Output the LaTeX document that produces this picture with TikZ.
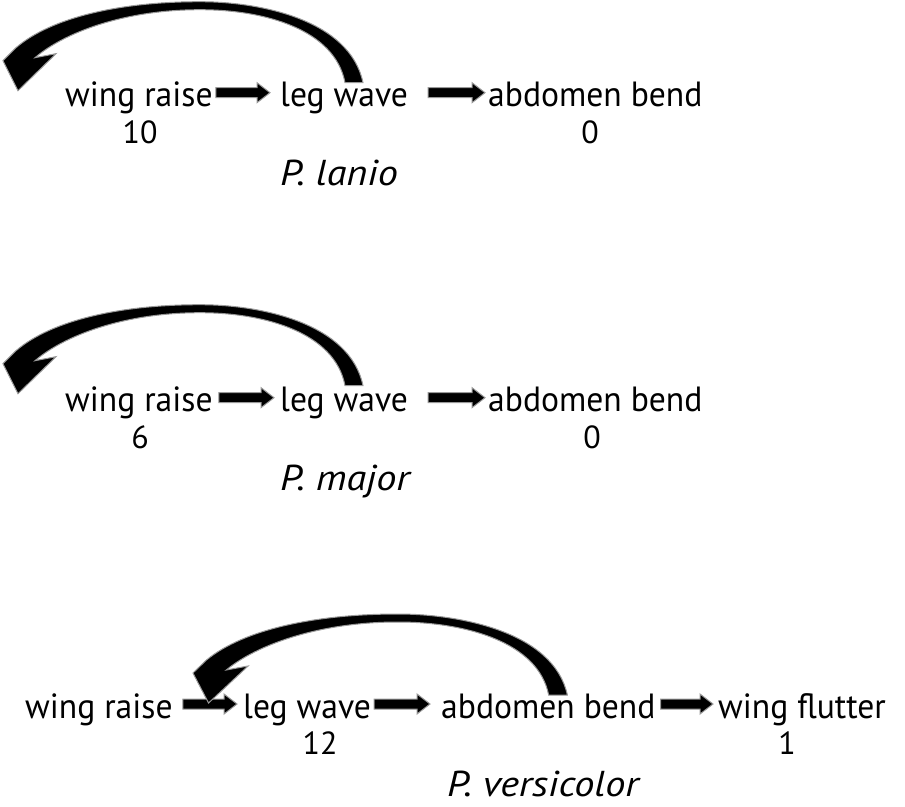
\documentclass[tikz,border=0pt]{standalone}
\usepackage{fontspec}
\setmainfont{PT Sans}
\newfontfamily\mainf[FakeStretch=0.96]{PT Sans}
\newfontfamily\specf[FakeStretch=1.12]{PT Sans Italic}
\usetikzlibrary{calc}
\tikzset{
  lbl/.style={inner sep=0pt, anchor=base west, font=\mainf\fontsize{35}{40}\selectfont},
  num/.style={inner sep=0pt, anchor=base, font=\fontsize{32}{36}\selectfont},
  spec/.style={inner sep=0pt, anchor=base west, font=\specf\fontsize{36}{42}\selectfont},
  fatshape/.style={fill=black, draw=black!40, line width=1pt, line join=miter},
}
\newcommand\fatarrow[2]{%
  \filldraw[fatshape] let \p1=#1, \p2=#2 in
    (\x1,\y1+5pt) -- (\x2-13pt,\y1+5pt) -- (\x2-13pt,\y1+10pt) -- (\x2,\y1)
    -- (\x2-13pt,\y1-10pt) -- (\x2-13pt,\y1-5pt) -- (\x1,\y1-5pt) -- cycle;}
\newcommand\loopshape{%
  \filldraw[fatshape] (9,0) .. controls (-4,-63) and (-94,-81) .. (-154,-81)
    .. controls (-232,-81) and (-302,-66) .. (-338,-35)
    -- (-351,-22) -- (-336,8) -- (-298,-29) -- (-319,-25)
    .. controls (-290,-50) and (-230,-73) .. (-154,-73)
    .. controls (-89,-73) and (-19,-53) .. (-9,0) -- cycle;}
\begin{document}
\begin{tikzpicture}[x=1pt,y=-1pt]
\useasboundingbox (0,0) rectangle (905,806);
% row 1
\node[lbl] (wr1) at (65,106.7) {wing raise};
\node[lbl] (lw1) at (280,106.7) {leg wave};
\node[lbl] (ab1) at (488,106.7) {abdomen bend};
\node[num] (n1a) at (140,143) {10};
\node[num] (n1b) at (590,143) {0};
\node[spec] (sp1) at (280,185) {P. lanio};
\coordinate (a1s) at ($(wr1.base east)+(3,-14)$);
\coordinate (a1e) at ($(lw1.base west)+(-10,-14)$);
\coordinate (b1s) at ($(lw1.base east)+(20,-14)$);
\coordinate (b1e) at ($(ab1.base west)+(-3,-14)$);
\fatarrow{(a1s)}{(a1e)}
\fatarrow{(b1s)}{(b1e)}
\coordinate (c1) at ($(lw1.base west)+(74,-24)$);
\begin{scope}[shift={(c1)}]\loopshape\end{scope}
% row 2
\node[lbl] (wr2) at (65,411.7) {wing raise};
\node[lbl] (lw2) at (280,411.7) {leg wave};
\node[lbl] (ab2) at (488,411.7) {abdomen bend};
\node[num] (n2a) at (140,448) {6};
\node[num] (n2b) at (592,448) {0};
\node[spec] (sp2) at (280,490) {P. major};
\coordinate (a2s) at ($(wr2.base east)+(6,-14)$);
\coordinate (a2e) at ($(lw2.base west)+(-6,-14)$);
\coordinate (b2s) at ($(lw2.base east)+(20,-14)$);
\coordinate (b2e) at ($(ab2.base west)+(-3,-14)$);
\fatarrow{(a2s)}{(a2e)}
\fatarrow{(b2s)}{(b2e)}
\coordinate (c2) at ($(lw2.base west)+(74,-26)$);
\begin{scope}[shift={(c2)}]\loopshape\end{scope}
% row 3
\node[lbl] (wr3) at (25,718) {wing raise};
\node[lbl] (lw3) at (243,718) {leg wave};
\node[lbl] (ab3) at (441,718) {abdomen bend};
\node[lbl] (wf3) at (718,718) {wing flutter};
\node[num] (n3a) at (320,754) {12};
\node[num] (n3b) at (787,754) {1};
\node[spec] (sp3) at (447,796) {P. versicolor};
\coordinate (a3s) at ($(wr3.base east)+(10,-14)$);
\coordinate (a3e) at ($(lw3.base west)+(-6,-14)$);
\coordinate (b3s) at ($(lw3.base east)+(3,-14)$);
\coordinate (b3e) at ($(ab3.base west)+(-11,-14)$);
\coordinate (d3s) at ($(ab3.base east)+(5,-14)$);
\coordinate (d3e) at ($(wf3.base west)+(-5,-14)$);
\fatarrow{(a3s)}{(a3e)}
\fatarrow{(b3s)}{(b3e)}
\fatarrow{(d3s)}{(d3e)}
\coordinate (c3) at ($(ab3.base west)+(117,-23)$);
\begin{scope}[shift={(c3)},xscale=1.04]\loopshape\end{scope}
\end{tikzpicture}
\end{document}
